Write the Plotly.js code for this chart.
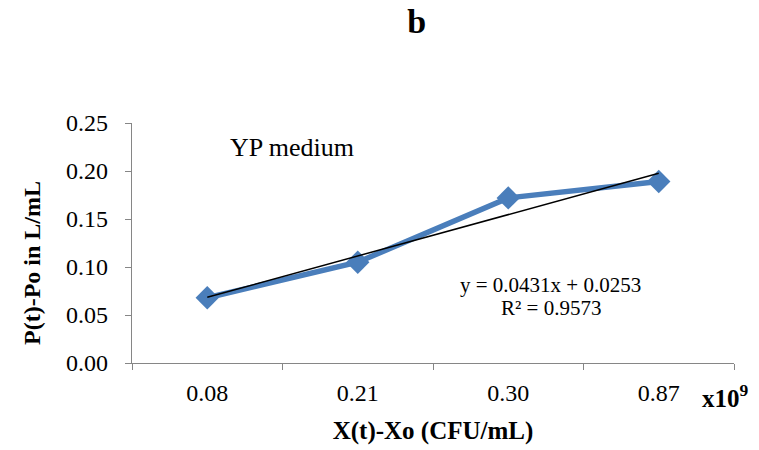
<!DOCTYPE html>
<html>
<head>
<meta charset="utf-8">
<script src="https://cdn.plot.ly/plotly-3.0.1.min.js"></script>
<style>html,body{margin:0;padding:0;background:#fff;}#chart{width:759px;height:450px;}</style>
</head>
<body>
<div id="chart"></div>
<script>
var categories = ['0.08', '0.21', '0.30', '0.87'];
var values = [0.068, 0.105, 0.172, 0.189];
var trendSlope = 0.0431;
var trendIntercept = 0.0253;
var yTicks = [0, 0.05, 0.10, 0.15, 0.20, 0.25];

var trendX = [categories[0], categories[categories.length - 1]];
var trendY = [trendSlope * 1 + trendIntercept, trendSlope * categories.length + trendIntercept];

var font = '"Liberation Serif", serif';
var traces = [
  {
    x: categories, y: values, type: 'scatter', mode: 'lines+markers',
    line: {color: '#4A7EBB', width: 5.5},
    marker: {symbol: 'diamond', size: 18, color: '#4A7EBB'},
    hoverinfo: 'skip', showlegend: false
  },
  {
    x: trendX, y: trendY, type: 'scatter', mode: 'lines',
    line: {color: '#000000', width: 1.5},
    hoverinfo: 'skip', showlegend: false
  }
];

var layout = {
  width: 759, height: 450,
  margin: {l: 132, r: 25, t: 123, b: 87},
  paper_bgcolor: '#ffffff', plot_bgcolor: '#ffffff',
  font: {family: font, size: 24, color: '#000'},
  title: {text: '<b>b</b>', x: 0.549, xanchor: 'center', y: 0.953, yanchor: 'middle', font: {family: font, size: 34, color: '#000'}},
  xaxis: {
    type: 'category', range: [-0.5, 3.5],
    tickson: 'boundaries', ticks: 'outside', ticklen: 6, tickcolor: '#868686',
    showline: true, linecolor: '#868686', linewidth: 1.3,
    showgrid: false, zeroline: false,
    ticklabelstandoff: 8,
    tickfont: {family: font, size: 24, color: '#000'},
    title: {text: '<b>X(t)-Xo (CFU/mL)</b>', standoff: 16, font: {family: font, size: 25, color: '#000'}},
    automargin: false, fixedrange: true
  },
  yaxis: {
    range: [0, 0.25], tickvals: yTicks, tickformat: '.2f',
    ticks: 'outside', ticklen: 6, tickcolor: '#868686',
    showline: true, linecolor: '#868686', linewidth: 1.3,
    showgrid: false, zeroline: false,
    ticklabelstandoff: 12,
    tickfont: {family: font, size: 24, color: '#000'},
    automargin: false, fixedrange: true
  },
  annotations: [
    {text: '<b>P(t)-Po in L/mL</b>', textangle: -90, xref: 'paper', yref: 'paper', x: -0.166, y: 0.417, xanchor: 'center', yanchor: 'middle', showarrow: false, font: {family: font, size: 24, color: '#000'}},
    {text: 'YP medium', xref: 'paper', yref: 'paper', x: 0.159, y: 0.898, xanchor: 'left', yanchor: 'middle', showarrow: false, font: {family: font, size: 26, color: '#000'}},
    {text: 'y = 0.0431x + 0.0253', xref: 'paper', yref: 'paper', x: 0.696, y: 0.325, xanchor: 'center', yanchor: 'middle', showarrow: false, font: {family: font, size: 21, color: '#000'}},
    {text: 'R² = 0.9573', xref: 'paper', yref: 'paper', x: 0.696, y: 0.23, xanchor: 'center', yanchor: 'middle', showarrow: false, font: {family: font, size: 21, color: '#000'}},
    {text: '<b>x10<sup>9</sup></b>', xref: 'paper', yref: 'paper', x: 0.943, y: -0.137, xanchor: 'left', yanchor: 'middle', showarrow: false, font: {family: font, size: 25, color: '#000'}}
  ]
};

Plotly.newPlot('chart', traces, layout, {displayModeBar: false, staticPlot: true});
</script>
</body>
</html>
